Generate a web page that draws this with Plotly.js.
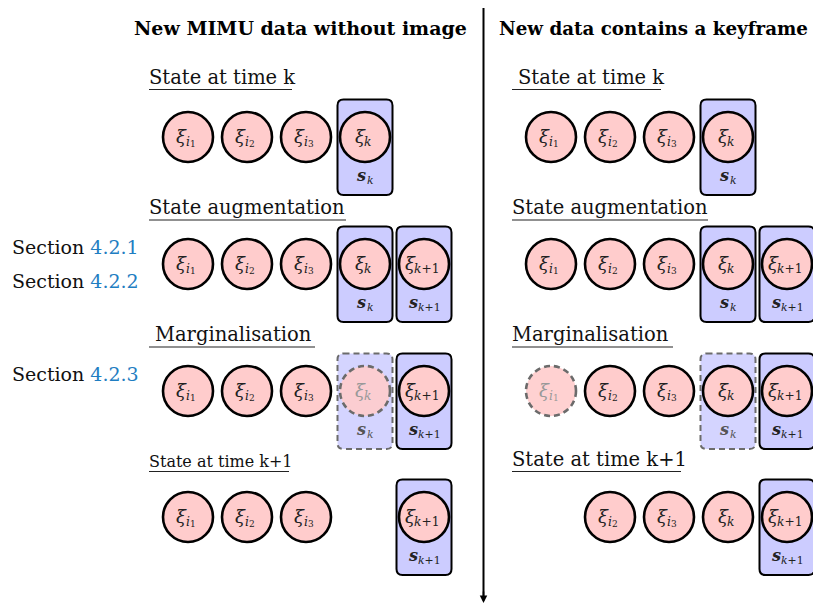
<!DOCTYPE html>
<html>
<head>
<meta charset="utf-8">
<script src="https://cdn.plot.ly/plotly-3.0.1.min.js"></script>
<style>html,body{margin:0;padding:0;background:#fff;}#chart{width:813px;height:603px;}</style>
</head>
<body>
<div id="chart"></div>
<script>
// ---- diagram content ----
const panelTitles = ["New MIMU data without image", "New data contains a keyframe"];
const rowTitles = ["State at time k", "State augmentation", "Marginalisation", "State at time k+1"];
const sectionLabels = ["4.2.1", "4.2.2", "4.2.3"];
// node labels per slot ("" = empty slot, trailing "~" = marginalised)
const leftNodes = [
  ["i1", "i2", "i3", "k", ""],
  ["i1", "i2", "i3", "k", "k+1"],
  ["i1", "i2", "i3", "k~", "k+1"],
  ["i1", "i2", "i3", "", "k+1"]
];
const leftBoxes = [
  ["", "", "", "k", ""],
  ["", "", "", "k", "k+1"],
  ["", "", "", "k~", "k+1"],
  ["", "", "", "", "k+1"]
];
const rightNodes = [
  ["i1", "i2", "i3", "k", ""],
  ["i1", "i2", "i3", "k", "k+1"],
  ["i1~", "i2", "i3", "k", "k+1"],
  ["", "i2", "i3", "k", "k+1"]
];
const rightBoxes = [
  ["", "", "", "k", ""],
  ["", "", "", "k", "k+1"],
  ["", "", "", "k~", "k+1"],
  ["", "", "", "", "k+1"]
];

// ---- layout geometry ----
const W = 813, H = 603;
const FONT = "DejaVu Serif, Liberation Serif, serif";
const rowY = [137, 264, 391, 517];
const underlineY = [89.5, 220, 347, 471.5];
const panelX0 = [188, 551];
const slotDX = 59;
const R = 25;

const shapes = [];
const annotations = [];

function txt(x, y, text, size, color, xanchor, extra) {
  annotations.push(Object.assign({
    x: x, y: y, xref: "x", yref: "y", showarrow: false, text: text,
    xanchor: xanchor || "center", yanchor: "middle", borderpad: 0, borderwidth: 0,
    font: {family: FONT, size: size, color: color}
  }, extra || {}));
}

// symbol with subscript drawn as separate texts
function symbol(cx, cy, base, baseW, size, sub, color, gap) {
  const subSize = size * 0.68;
  const digSize = size * 0.5;
  let subW;
  if (sub[0] === "i") subW = subSize * 0.32 + digSize * 0.64;
  else if (sub === "k+1") subW = subSize * 2.0;
  else subW = subSize * 0.56;
  const x0 = cx - (baseW + subW) / 2;
  const xs = x0 + baseW;
  const xsub = xs + gap;
  txt(xs, cy, base, size, color, "right");
  if (sub[0] === "i") {
    txt(xsub, cy + size * 0.33, "<i>i</i>", subSize, color, "left");
    txt(xsub + subSize * 0.34, cy + size * 0.45, sub.slice(1), digSize, color, "left");
  } else if (sub === "k+1") {
    txt(xsub, cy + size * 0.33, "<i>k</i>+1", subSize, color, "left");
  } else {
    txt(xsub, cy + size * 0.33, "<i>k</i>", subSize, color, "left");
  }
}

function roundRect(x0, y0, x1, y1, r) {
  return `M${x0 + r},${y0} L${x1 - r},${y0} Q${x1},${y0} ${x1},${y0 + r} L${x1},${y1 - r} Q${x1},${y1} ${x1 - r},${y1} L${x0 + r},${y1} Q${x0},${y1} ${x0},${y1 - r} L${x0},${y0 + r} Q${x0},${y0} ${x0 + r},${y0} Z`;
}

function drawPanel(p, nodes, boxes) {
  const boxShapes = [], circShapes = [];
  for (let r = 0; r < nodes.length; r++) {
    const cy = rowY[r];
    for (let s = 0; s < 5; s++) {
      const cx = panelX0[p] + s * slotDX;
      const b = boxes[r][s];
      if (b) {
        const marg = b.endsWith("~");
        const lbl = marg ? b.slice(0, -1) : b;
        boxShapes.push({
          type: "path", xref: "x", yref: "y",
          path: roundRect(cx - 27.5, cy - 37.5, cx + 27.5, cy + 58, 6),
          fillcolor: marg ? "rgba(204,204,255,0.85)" : "#ccccff",
          line: {color: marg ? "#6b6b6b" : "#000", width: 2, dash: marg ? "6px,4px" : "solid"}
        });
        symbol(cx, cy + 38, "<b><i>s</i></b>", 9, 16, lbl, marg ? "#555" : "#222", 0.5);
      }
      const n = nodes[r][s];
      if (n) {
        const marg = n.endsWith("~");
        const lbl = marg ? n.slice(0, -1) : n;
        circShapes.push({
          type: "circle", xref: "x", yref: "y",
          x0: cx - R, x1: cx + R, y0: cy - R, y1: cy + R,
          fillcolor: marg ? "rgba(255,204,204,0.9)" : "#ffcccc",
          line: {color: marg ? "#6b6b6b" : "#000", width: 2.6, dash: marg ? "6px,4px" : "solid"}
        });
        symbol(cx - 0.5, cy - 1, "<i>\u03be</i>", 9, 18, lbl, marg ? "#999" : "#222", -1.5);
      }
    }
  }
  shapes.push(...boxShapes, ...circShapes);
}

drawPanel(0, leftNodes, leftBoxes);
drawPanel(1, rightNodes, rightBoxes);

// panel titles
const titleX = [300, 653];
const titleSizes = [19, 18.3];
panelTitles.forEach((t, i) => txt(titleX[i], 28, "<b>" + t + "</b>", titleSizes[i], "#000"));

// row titles with underline
const titleLeft = [[149, 149, 155, 149], [518, 512, 512, 512]];
const ulLeft = [[149, 149, 149, 149], [512, 512, 512, 512]];
const ulRight = [[292, 346, 315, 289], [661, 708, 673, 681]];
const titleSize = [[19.5, 19.5, 19.5, 16], [19.5, 19.5, 19.5, 19.5]];
for (let p = 0; p < 2; p++) {
  for (let r = 0; r < 4; r++) {
    const uy = underlineY[r];
    txt(titleLeft[p][r], uy - 1, rowTitles[r], titleSize[p][r], "#111", "left", {yanchor: "bottom"});
    shapes.push({
      type: "line", xref: "x", yref: "y",
      x0: ulLeft[p][r], x1: ulRight[p][r], y0: uy, y1: uy,
      line: {color: "#222", width: 1.2}
    });
  }
}

// section references
const sectionY = [247, 281, 374];
sectionLabels.forEach((s, i) => txt(12, sectionY[i],
  "Section <span style=\"color:#1f7ec2\">" + s + "</span>", 19, "#111", "left"));

// divider with arrow
shapes.push({type: "line", xref: "x", yref: "y", x0: 483.5, x1: 483.5, y0: 8, y1: 596,
  line: {color: "#000", width: 2}});
annotations.push({x: 483.5, y: 603, xref: "x", yref: "y", ax: 483.5, ay: 590,
  axref: "x", ayref: "y", showarrow: true, arrowhead: 2, arrowsize: 1, arrowwidth: 1.5,
  arrowcolor: "#000", text: ""});

const layout = {
  width: W, height: H,
  margin: {l: 0, r: 0, t: 0, b: 0},
  paper_bgcolor: "#fff", plot_bgcolor: "#fff",
  xaxis: {range: [0, W], visible: false, fixedrange: true},
  yaxis: {range: [H, 0], visible: false, fixedrange: true},
  showlegend: false,
  shapes: shapes,
  annotations: annotations
};
Plotly.newPlot("chart", [{x: [], y: [], type: "scatter", mode: "markers", hoverinfo: "skip"}], layout,
  {staticPlot: true, displayModeBar: false});
</script>
</body>
</html>
